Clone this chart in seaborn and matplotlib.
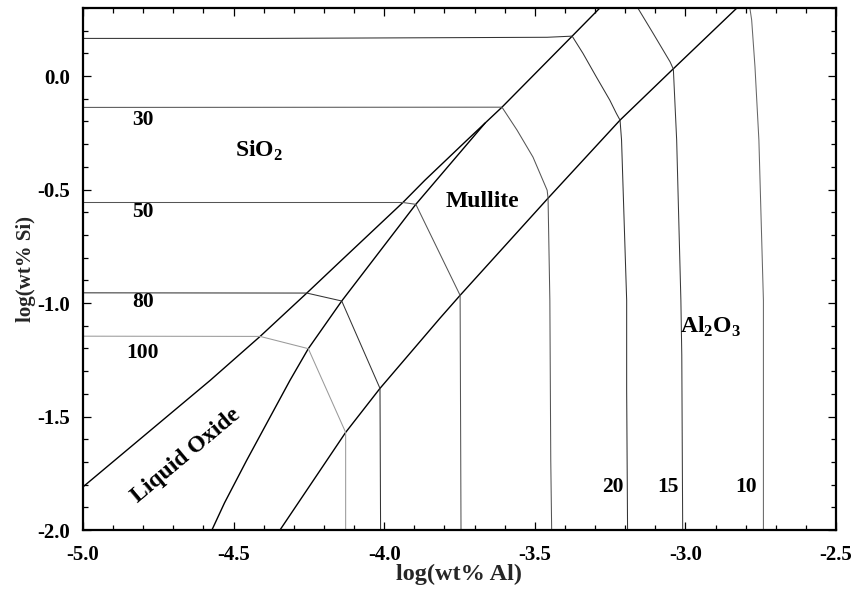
import matplotlib
matplotlib.use("Agg")
import matplotlib.pyplot as plt
from matplotlib.ticker import MultipleLocator, FormatStrFormatter
import pandas as pd
import seaborn as sns

# ---- phase boundaries (log wt% Al, log wt% Si) ----
liq_upper_x = [-5.000, -4.578, -4.412, -4.257, -4.147, -3.938, -3.865, -3.725, -3.609, -3.376, -3.284]
liq_upper_y = [-1.810, -1.341, -1.147, -0.956, -0.818, -0.557, -0.459, -0.282, -0.137, 0.176, 0.300]

liq_lower_x = [-4.572, -4.530, -4.457, -4.313, -4.252, -4.141, -3.895, -3.665]
liq_lower_y = [-2.000, -1.880, -1.694, -1.341, -1.201, -0.991, -0.565, -0.207]

mullite_x = [-4.346, -4.128, -4.014, -3.815, -3.748, -3.456, -3.217, -3.041, -2.829]
mullite_y = [-2.000, -1.570, -1.376, -1.067, -0.966, -0.538, -0.194, 0.031, 0.300]

# ---- iso-oxygen contours ----
c100_x = [-5.000, -4.412, -4.252, -4.128, -4.128]
c100_y = [-1.146, -1.147, -1.201, -1.570, -2.000]

c80_x = [-5.000, -4.257, -4.141, -4.014, -4.012]
c80_y = [-0.955, -0.956, -0.991, -1.376, -2.000]

c50_x = [-5.000, -3.938, -3.895, -3.748, -3.745]
c50_y = [-0.557, -0.557, -0.565, -0.966, -2.000]

c30_x = [-5.000, -3.609, -3.559, -3.506, -3.459, -3.456, -3.450, -3.447, -3.444]
c30_y = [-0.138, -0.137, -0.238, -0.357, -0.503, -0.538, -0.988, -1.694, -2.000]

c20_x = [-5.000, -4.400, -3.459, -3.376, -3.340, -3.296, -3.251, -3.229, -3.217, -3.212, -3.195, -3.195, -3.192]
c20_y = [0.166, 0.166, 0.171, 0.176, 0.100, -0.003, -0.106, -0.165, -0.194, -0.282, -0.988, -1.385, -2.000]

c15_x = [-3.158, -3.107, -3.051, -3.040, -3.029, -3.015, -3.012, -3.009]
c15_y = [0.300, 0.188, 0.063, 0.031, -0.282, -0.988, -1.231, -2.000]

c10_x = [-2.786, -2.780, -2.769, -2.756, -2.741, -2.741]
c10_y = [0.300, 0.247, 0.041, -0.282, -0.988, -2.000]

curves = {
    "liq_upper": (liq_upper_x, liq_upper_y, "boundary"),
    "liq_lower": (liq_lower_x, liq_lower_y, "boundary"),
    "mullite": (mullite_x, mullite_y, "boundary"),
    "c100": (c100_x, c100_y, "contour"),
    "c80": (c80_x, c80_y, "contour"),
    "c50": (c50_x, c50_y, "contour"),
    "c30": (c30_x, c30_y, "contour"),
    "c20": (c20_x, c20_y, "contour"),
    "c15": (c15_x, c15_y, "contour"),
    "c10": (c10_x, c10_y, "contour"),
}
colors = {
    "liq_upper": "#000000", "liq_lower": "#000000", "mullite": "#000000",
    "c100": "#9a9a9a", "c80": "#333333", "c50": "#555555", "c30": "#555555",
    "c20": "#333333", "c15": "#3a3a3a", "c10": "#666666",
}

rows = []
for name, (xs, ys, kind) in curves.items():
    for i, (x, y) in enumerate(zip(xs, ys)):
        rows.append({"curve": name, "kind": kind, "order": i, "al": x, "si": y})
df = pd.DataFrame(rows)

sns.set_theme(style="ticks")
plt.rcParams["font.family"] = ["Liberation Serif", "DejaVu Serif"]
plt.rcParams["font.weight"] = "bold"
plt.rcParams["mathtext.fontset"] = "custom"
plt.rcParams["mathtext.rm"] = "Liberation Serif:bold"
plt.rcParams["mathtext.bf"] = "Liberation Serif:bold"
plt.rcParams["axes.unicode_minus"] = False

fig = plt.figure(figsize=(8.59, 5.93), dpi=100)
ax = fig.add_axes([83 / 859, 63 / 593, 753 / 859, 522 / 593])

sns.lineplot(data=df, x="al", y="si", hue="curve", units="curve", estimator=None,
             sort=False, palette=colors, size="kind",
             sizes={"boundary": 1.0, "contour": 0.75}, legend=False, ax=ax)

ax.set_xlim(-5.0, -2.5)
ax.set_ylim(-2.0, 0.3)
ax.xaxis.set_major_locator(MultipleLocator(0.5))
ax.xaxis.set_minor_locator(MultipleLocator(0.1))
ax.yaxis.set_major_locator(MultipleLocator(0.5))
ax.yaxis.set_minor_locator(MultipleLocator(0.1))
ax.xaxis.set_major_formatter(FormatStrFormatter("%.1f"))
ax.yaxis.set_major_formatter(FormatStrFormatter("%.1f"))

ax.tick_params(which="both", direction="in", top=True, right=True, width=0.9, colors="black")
ax.tick_params(which="major", length=6)
ax.tick_params(which="minor", length=3.5)
ax.tick_params(axis="x", which="major", pad=11, labelsize=15)
ax.tick_params(axis="y", which="major", pad=9, labelsize=15)
for lab in ax.get_xticklabels() + ax.get_yticklabels():
    lab.set_fontweight("bold")
for sp in ax.spines.values():
    sp.set_linewidth(1.6)
    sp.set_color("black")

ax.set_xlabel("log(wt% Al)", fontsize=17.5, fontweight="bold", labelpad=-1)
ax.set_ylabel("log(wt% Si)", fontsize=15, fontweight="bold", labelpad=1)

txt = dict(ha="center", va="center", fontweight="bold", color="black")
for lab, yv in [("30", -0.192), ("50", -0.600), ("80", -0.997), ("100", -1.220)]:
    ax.text(-4.802, yv, lab, fontsize=15.5, **txt)
for lab, xv in [("20", -3.240), ("15", -3.059), ("10", -2.799)]:
    ax.text(xv, -1.809, lab, fontsize=15.5, **txt)
ax.text(-4.416, -0.330, "SiO$_2$", fontsize=17, **txt)
ax.text(-3.674, -0.551, "Mullite", fontsize=17, **txt)
ax.text(-2.918, -1.105, "Al$_2$O$_3$", fontsize=17, **txt)
ax.text(-4.658, -1.672, "Liquid Oxide", fontsize=17, rotation=40,
        rotation_mode="anchor", **txt)

fig.savefig("out.png", dpi=100)
